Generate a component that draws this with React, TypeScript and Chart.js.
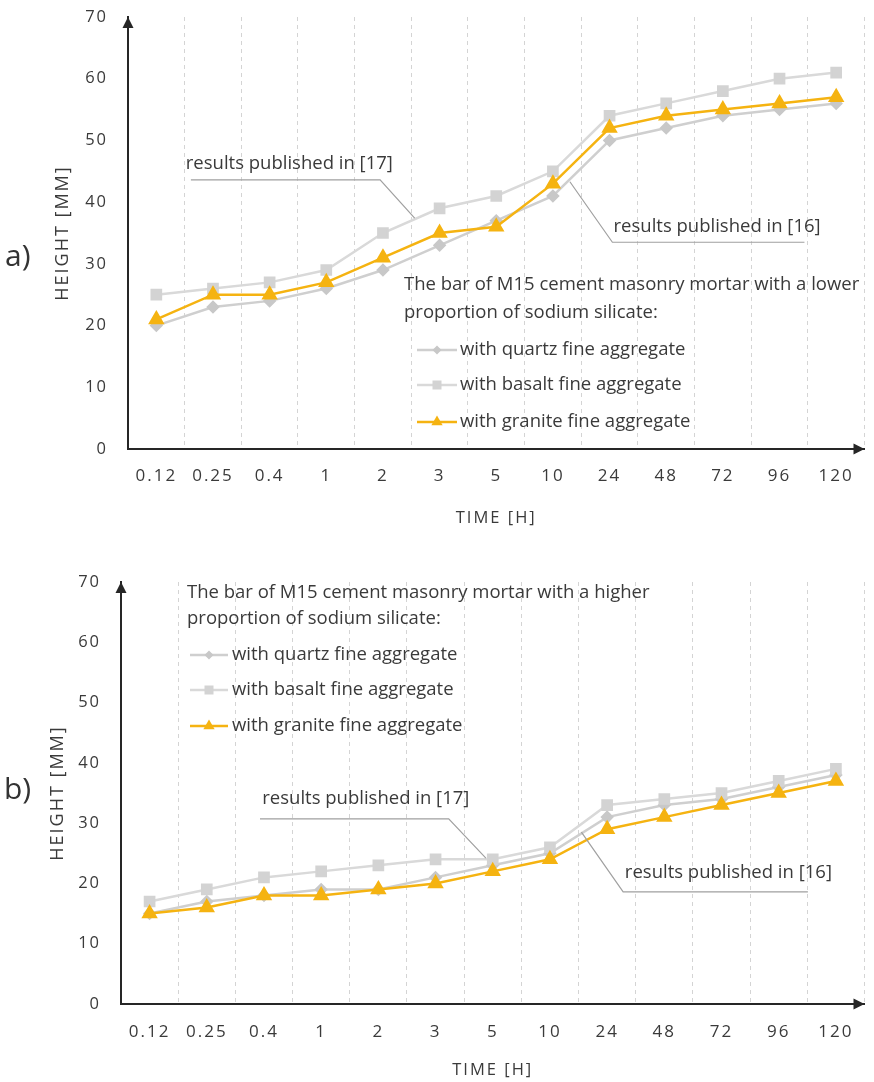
import React, { useEffect, useRef } from 'react';
import { Chart, registerables } from 'chart.js';

Chart.register(...registerables);

const FONT = "'Open Sans', 'Noto Sans', sans-serif";
const TEXT = '#3a3a3a';
const AXIS = '#262626';
const GRID = '#d4d4d4';
const LEADER = '#a0a0a0';

const categories = ['0.12', '0.25', '0.4', '1', '2', '3', '5', '10', '24', '48', '72', '96', '120'];
const yMin = 0;
const yMax = 70;
const yStep = 10;

const seriesNames = ['with quartz fine aggregate', 'with basalt fine aggregate', 'with granite fine aggregate'];

// panel a) lower proportion of sodium silicate
const quartzA = [20, 23, 24, 26, 29, 33, 37, 41, 50, 52, 54, 55, 56];
const basaltA = [25, 26, 27, 29, 35, 39, 41, 45, 54, 56, 58, 60, 61];
const graniteA = [21, 25, 25, 27, 31, 35, 36, 43, 52, 54, 55, 56, 57];

// panel b) higher proportion of sodium silicate
const quartzB = [15, 17, 18, 19, 19, 21, 23, 25, 31, 33, 34, 36, 38];
const basaltB = [17, 19, 21, 22, 23, 24, 24, 26, 33, 34, 35, 37, 39];
const graniteB = [15, 16, 18, 18, 19, 20, 22, 24, 29, 31, 33, 35, 37];

const legendTitleA = ['The bar of M15 cement masonry mortar with a lower', 'proportion of sodium silicate:'];
const legendTitleB = ['The bar of M15 cement masonry mortar with a higher', 'proportion of sodium silicate:'];

const annotText17 = 'results published in [17]';
const annotText16 = 'results published in [16]';

// annotations in data coordinates: [category index, value]
const annotA17Text = [0.52, 46.3];
const annotA17Line = [[0.61, 43.6], [3.95, 43.6], [4.56, 37.4]];
const annotA16Text = [8.07, 36.0];
const annotA16Line = [[7.3, 43.3], [8.05, 33.5], [11.44, 33.5]];
const annotB17Text = [1.97, 34.0];
const annotB17Line = [[1.93, 30.7], [5.23, 30.7], [5.88, 24.2]];
const annotB16Text = [8.31, 21.7];
const annotB16Line = [[7.55, 28.5], [8.28, 18.6], [11.51, 18.6]];

const COLORS = {
  quartz: '#cfcfcf',
  basalt: '#d9d9d9',
  granite: '#f5b311',
};

type Annot = { text: string; at: number[]; line: number[][] };
type Panel = {
  label: string;
  height: number;
  padTop: number;
  padRight: number;
  yWidth: number;
  xHeight: number;
  xTickPad: number;
  yTitlePad: number;
  xTitlePad: number;
  labelPos: [number, number];
  legendTitle: string[];
  legendTitleX: number;
  legendTitleY: number[];
  legendLineX: [number, number];
  legendTextX: number;
  legendItemY: number[];
  quartz: number[];
  basalt: number[];
  granite: number[];
  annots: Annot[];
};

const panelA: Panel = {
  label: 'a)',
  height: 540,
  padTop: 17,
  padRight: 1,
  yWidth: 128,
  xHeight: 91,
  xTickPad: 17,
  yTitlePad: 52,
  xTitlePad: 12,
  labelPos: [5, 257],
  legendTitle: legendTitleA,
  legendTitleX: 404,
  legendTitleY: [285, 313],
  legendLineX: [417, 457],
  legendTextX: 460,
  legendItemY: [350, 385, 422],
  quartz: quartzA,
  basalt: basaltA,
  granite: graniteA,
  annots: [
    { text: annotText17, at: annotA17Text, line: annotA17Line },
    { text: annotText16, at: annotA16Text, line: annotA16Line },
  ],
};

const panelB: Panel = {
  label: 'b)',
  height: 542,
  padTop: 42,
  padRight: 6,
  yWidth: 121,
  xHeight: 78,
  xTickPad: 18,
  yTitlePad: 47,
  xTitlePad: 2,
  labelPos: [4, 250],
  legendTitle: legendTitleB,
  legendTitleX: 187,
  legendTitleY: [53, 79],
  legendLineX: [190, 228],
  legendTextX: 232,
  legendItemY: [115, 150, 186],
  quartz: quartzB,
  basalt: basaltB,
  granite: graniteB,
  annots: [
    { text: annotText17, at: annotB17Text, line: annotB17Line },
    { text: annotText16, at: annotB16Text, line: annotB16Line },
  ],
};

function drawMarker(ctx: CanvasRenderingContext2D, style: string, x: number, y: number, color: string) {
  ctx.fillStyle = color;
  ctx.beginPath();
  if (style === 'rectRot') {
    const r = 4.5;
    ctx.moveTo(x - r, y);
    ctx.lineTo(x, y - r);
    ctx.lineTo(x + r, y);
    ctx.lineTo(x, y + r);
  } else if (style === 'rect') {
    const s = 4.5;
    ctx.rect(x - s, y - s, 2 * s, 2 * s);
  } else {
    const r = 6.5;
    ctx.moveTo(x, y - r);
    ctx.lineTo(x + r * 0.866, y + r * 0.5);
    ctx.lineTo(x - r * 0.866, y + r * 0.5);
  }
  ctx.closePath();
  ctx.fill();
}

function makeOverlay(panel: Panel) {
  return {
    id: 'overlay',
    beforeDraw(chart: any) {
      chart.ctx.letterSpacing = '2px';
    },
    beforeDatasetsDraw(chart: any) {
      chart.ctx.letterSpacing = '0px';
    },
    afterDraw(chart: any) {
      const ctx: CanvasRenderingContext2D = chart.ctx;
      const { left, right, top, bottom } = chart.chartArea;
      const xs = chart.scales.x;
      const ys = chart.scales.y;
      ctx.save();
      ctx.letterSpacing = '0px';

      // axis arrowheads
      ctx.fillStyle = AXIS;
      ctx.beginPath();
      ctx.moveTo(left, top);
      ctx.lineTo(left - 5.5, top + 11);
      ctx.lineTo(left + 5.5, top + 11);
      ctx.closePath();
      ctx.fill();
      ctx.beginPath();
      ctx.moveTo(right, bottom);
      ctx.lineTo(right - 11, bottom - 5.5);
      ctx.lineTo(right - 11, bottom + 5.5);
      ctx.closePath();
      ctx.fill();

      // annotations
      ctx.font = `18.5px ${FONT}`;
      ctx.textBaseline = 'middle';
      ctx.textAlign = 'left';
      for (const a of panel.annots) {
        ctx.strokeStyle = LEADER;
        ctx.lineWidth = 1.2;
        ctx.beginPath();
        a.line.forEach((pt, i) => {
          const px = xs.getPixelForValue(pt[0]);
          const py = ys.getPixelForValue(pt[1]);
          if (i === 0) ctx.moveTo(px, py);
          else ctx.lineTo(px, py);
        });
        ctx.stroke();
        ctx.fillStyle = TEXT;
        ctx.fillText(a.text, xs.getPixelForValue(a.at[0]), ys.getPixelForValue(a.at[1]));
      }

      // legend
      ctx.font = `18.5px ${FONT}`;
      ctx.fillStyle = TEXT;
      panel.legendTitle.forEach((t, i) => ctx.fillText(t, panel.legendTitleX, panel.legendTitleY[i]));
      const ds = chart.data.datasets;
      const legendOrder = [0, 1, 2];
      legendOrder.forEach((di, i) => {
        const d = ds[di];
        const y = panel.legendItemY[i];
        ctx.strokeStyle = d.borderColor;
        ctx.lineWidth = d.borderWidth;
        ctx.beginPath();
        ctx.moveTo(panel.legendLineX[0], y);
        ctx.lineTo(panel.legendLineX[1], y);
        ctx.stroke();
        drawMarker(ctx, d.pointStyle, (panel.legendLineX[0] + panel.legendLineX[1]) / 2, y, d.pointBackgroundColor);
        ctx.fillStyle = TEXT;
        ctx.fillText(d.label, panel.legendTextX, y);
      });

      // panel label
      ctx.font = `30px ${FONT}`;
      ctx.fillStyle = '#333';
      ctx.fillText(panel.label, panel.labelPos[0], panel.labelPos[1]);
      ctx.restore();
    },
  };
}

function PanelChart({ panel }: { panel: Panel }) {
  const ref = useRef<HTMLCanvasElement>(null);
  useEffect(() => {
    const canvas = ref.current;
    if (!canvas) return;
    const chart = new Chart(canvas, {
      type: 'line',
      data: {
        labels: categories,
        datasets: [
          {
            label: seriesNames[0],
            data: panel.quartz,
            borderColor: COLORS.quartz,
            backgroundColor: COLORS.quartz,
            pointBackgroundColor: '#c8c8c8',
            pointBorderColor: '#c8c8c8',
            pointStyle: 'rectRot',
            pointRadius: 5,
            borderWidth: 2.5,
            order: 3,
          },
          {
            label: seriesNames[1],
            data: panel.basalt,
            borderColor: COLORS.basalt,
            backgroundColor: COLORS.basalt,
            pointBackgroundColor: '#d3d3d3',
            pointBorderColor: '#d3d3d3',
            pointStyle: 'rect',
            pointRadius: 6.5,
            borderWidth: 2.5,
            order: 2,
          },
          {
            label: seriesNames[2],
            data: panel.granite,
            borderColor: COLORS.granite,
            backgroundColor: COLORS.granite,
            pointBackgroundColor: COLORS.granite,
            pointBorderColor: COLORS.granite,
            pointStyle: 'triangle',
            pointRadius: 7,
            borderWidth: 2.5,
            order: 1,
          },
        ] as any,
      },
      options: {
        animation: false,
        responsive: false,
        devicePixelRatio: 1,
        events: [],
        layout: { padding: { top: panel.padTop, right: panel.padRight, left: 0, bottom: 0 } },
        plugins: {
          legend: { display: false },
          tooltip: { enabled: false },
          title: { display: false },
        },
        elements: { line: { tension: 0 } },
        scales: {
          x: {
            type: 'category',
            offset: true,
            grid: { display: true, offset: true, color: GRID, lineWidth: 1, drawTicks: false },
            border: { display: true, color: AXIS, width: 2, dash: [4, 4] },
            ticks: { color: TEXT, font: { family: FONT, size: 17 }, padding: panel.xTickPad, maxRotation: 0, autoSkip: false },
            title: { display: true, text: 'TIME [H]', color: TEXT, font: { family: FONT, size: 16.5 }, padding: { top: 0, bottom: panel.xTitlePad } },
            afterFit: (s: any) => {
              s.height = panel.xHeight;
              s.paddingLeft = 0;
              s.paddingRight = 0;
            },
          },
          y: {
            min: yMin,
            max: yMax,
            grid: { display: false, drawTicks: false },
            border: { display: true, color: AXIS, width: 2 },
            ticks: { stepSize: yStep, color: TEXT, font: { family: FONT, size: 16.5 }, padding: 20 },
            title: { display: true, text: 'HEIGHT [MM]', color: TEXT, font: { family: FONT, size: 18 }, padding: { top: panel.yTitlePad, bottom: 0 } },
            afterFit: (s: any) => {
              s.width = panel.yWidth;
              s.paddingTop = 0;
              s.paddingBottom = 0;
            },
          },
        },
      },
      plugins: [makeOverlay(panel)],
    } as any);
    return () => chart.destroy();
  }, [panel]);
  return <canvas ref={ref} width={874} height={panel.height} style={{ display: 'block', width: 874, height: panel.height }} />;
}

export default function App() {
  return (
    <div style={{ position: 'absolute', left: 0, top: 0, width: 874, height: 1082, background: '#fff' }}>
      <PanelChart panel={panelA} />
      <PanelChart panel={panelB} />
    </div>
  );
}
